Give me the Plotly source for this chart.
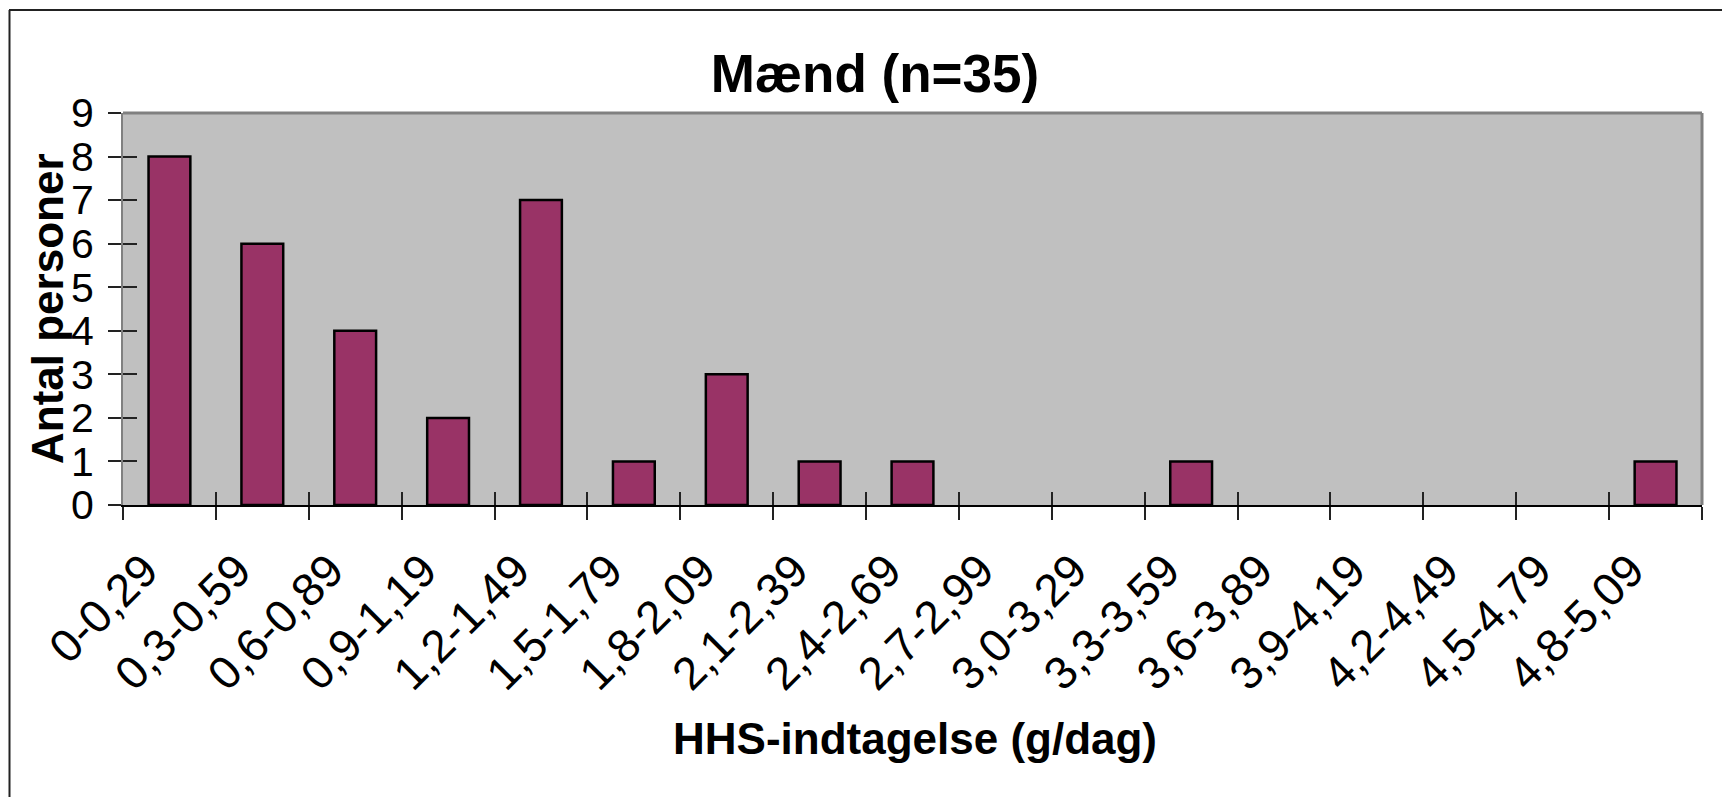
import plotly.graph_objects as go

# HHS intake intervals (g/day) and number of men in each
intervals = ["0-0,29", "0,3-0,59", "0,6-0,89", "0,9-1,19", "1,2-1,49", "1,5-1,79",
             "1,8-2,09", "2,1-2,39", "2,4-2,69", "2,7-2,99", "3,0-3,29", "3,3-3,59",
             "3,6-3,89", "3,9-4,19", "4,2-4,49", "4,5-4,79", "4,8-5,09"]
persons = [8, 6, 4, 2, 7, 1, 3, 1, 1, 0, 0, 1, 0, 0, 0, 0, 1]
y_ticks = list(range(10))

FONT = "Liberation Sans, Arial, sans-serif"
OFF = 8  # page body margin that shifts the figure
W, H = 1730 - OFF, 797 - OFF
L, R, T, B = 123 - OFF, 28, 113 - OFF, 292


def px_x(p):
    # page pixel -> paper x
    return (p - OFF - L) / (W - L - R)


def px_y(p):
    # page pixel -> paper y
    return (H - B - (p - OFF)) / (H - T - B)


# empty classes get no bar at all
bar_y = [v if v else None for v in persons]

fig = go.Figure()
fig.add_trace(go.Bar(
    x=intervals, y=bar_y, width=0.45,
    marker=dict(color="#993366", line=dict(color="black", width=2.5)),
    showlegend=False,
))
# invisible copy so the overlay axes (inner half of the crossing ticks) get drawn
fig.add_trace(go.Bar(
    x=intervals, y=bar_y, xaxis="x2", yaxis="y2", opacity=0,
    hoverinfo="skip", showlegend=False,
))

fig.update_layout(
    width=W, height=H,
    margin=dict(l=L, r=R, t=T, b=B, autoexpand=False),
    paper_bgcolor="white",
    plot_bgcolor="#C0C0C0",
    font=dict(family=FONT, color="black"),
    title=dict(text="<b>Mænd (n=35)</b>", font=dict(size=53, family=FONT),
               xref="paper", x=px_x(875), xanchor="center",
               yref="container", y=1 - (73.5 - OFF) / H, yanchor="middle"),
    xaxis=dict(type="category", range=[-0.5, 16.5], tickson="boundaries",
               ticks="outside", ticklen=13, tickwidth=1.5, tickcolor="#222",
               showline=True, linecolor="black", linewidth=2,
               tickangle=-45, tickfont=dict(size=46), showgrid=False,
               ticklabelstandoff=18, ticklabelshift=-25),
    yaxis=dict(range=[0, 9], tickvals=y_ticks, ticks="outside", ticklen=13,
               tickwidth=1.5, tickcolor="#222", showline=True,
               linecolor="#808080", linewidth=2, tickfont=dict(size=41),
               showgrid=False, zeroline=False, ticklabelstandoff=6),
    xaxis2=dict(type="category", range=[-0.5, 16.5], overlaying="x", anchor="y2",
                side="bottom", tickson="boundaries", ticks="inside", ticklen=13,
                tickwidth=1.5, tickcolor="#222", showticklabels=False,
                showgrid=False, showline=False),
    yaxis2=dict(range=[0, 9], tickvals=y_ticks, overlaying="y", anchor="x2",
                side="left", ticks="inside", ticklen=14, tickwidth=1.5,
                tickcolor="#222", showticklabels=False, showgrid=False,
                zeroline=False, showline=False),
)

# axis titles
fig.add_annotation(text="<b>HHS-indtagelse (g/dag)</b>", font=dict(size=44),
                   xref="paper", yref="paper", x=px_x(915), y=px_y(738),
                   xanchor="center", yanchor="middle", showarrow=False)
fig.add_annotation(text="<b>Antal personer</b>", font=dict(size=44), textangle=-90,
                   xref="paper", yref="paper", x=px_x(47), y=px_y(309),
                   xanchor="center", yanchor="middle", showarrow=False)

# grey frame on top/right of plot area, black chart border on top/left
fig.add_shape(type="line", xref="paper", yref="paper", x0=0, x1=1, y0=1, y1=1,
              line=dict(color="#808080", width=3))
fig.add_shape(type="line", xref="paper", yref="paper", x0=1, x1=1, y0=0, y1=1,
              line=dict(color="#808080", width=3))
fig.add_shape(type="line", xref="paper", yref="paper", x0=px_x(9.5), x1=px_x(9.5),
              y0=px_y(10), y1=px_y(797 + OFF), line=dict(color="#222", width=2))
fig.add_shape(type="line", xref="paper", yref="paper", x0=px_x(9), x1=px_x(1730 + OFF),
              y0=px_y(10), y1=px_y(10), line=dict(color="#222", width=2))

fig.write_html("out.html")
